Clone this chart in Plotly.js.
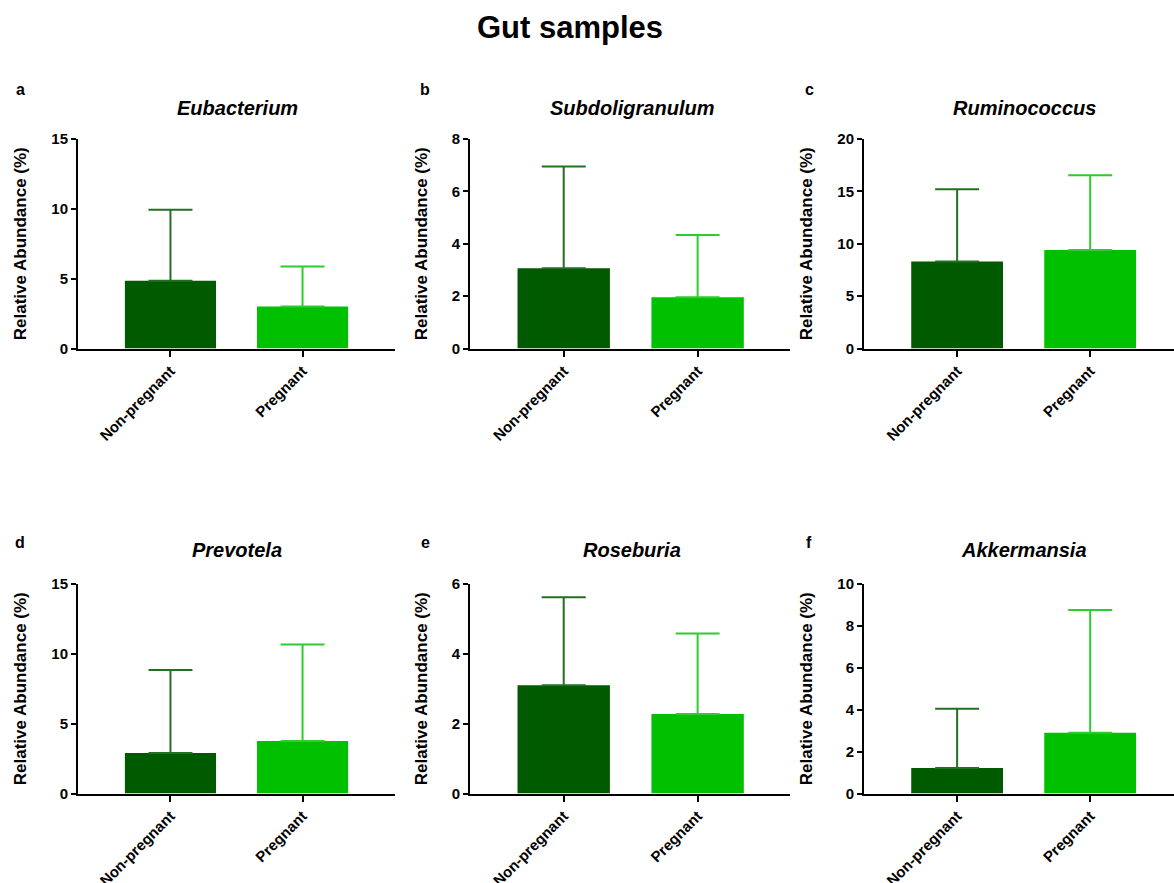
<!DOCTYPE html>
<html>
<head>
<meta charset="utf-8">
<script src="https://cdn.plot.ly/plotly-3.0.1.min.js"></script>
<style>html,body{margin:0;padding:0;background:#fff;}#chart{width:1174px;height:883px;}</style>
</head>
<body>
<div id="chart"></div>
<script>
// ---- data ----
const categories = ['Non-pregnant', 'Pregnant'];
const genera = ['Eubacterium', 'Subdoligranulum', 'Ruminococcus', 'Prevotela', 'Roseburia', 'Akkermansia'];
const panelLetters = ['a', 'b', 'c', 'd', 'e', 'f'];
const nonPregMean = [4.85, 3.06, 8.3, 2.9, 3.1, 1.22];
const nonPregErr  = [5.08, 3.89, 6.9, 5.95, 2.52, 2.83];
const pregMean    = [3.0, 1.96, 9.4, 3.75, 2.28, 2.9];
const pregErr     = [2.88, 2.37, 7.15, 6.92, 2.3, 5.86];
const yMax  = [15, 8, 20, 15, 6, 10];
const yStep = [5, 2, 5, 5, 2, 2];

// ---- layout geometry (pixels) ----
const W = 1174, H = 883;
const colX = [[78, 395], [470, 790], [864, 1174]];
const colRange = [[-0.7, 1.7], [-0.7, 1.69], [-0.7, 1.63]];
const rowY = [[139, 348.5], [584, 793.5]];
const titleY = [108, 550];
const titleX = [237, 632, 1024];
const letterY = [89, 542];
const letterX = [20, 425, 809];

const darkGreen = '#005a00', lightGreen = '#00c000';
const darkErr = '#237023', lightErr = '#2fcc2f';
const FONT = 'Liberation Sans, Arial, sans-serif';

const traces = [];
const layout = {
  width: W, height: H,
  margin: {l: 0, r: 0, t: 0, b: 0},
  paper_bgcolor: '#fff', plot_bgcolor: '#fff',
  showlegend: false,
  barmode: 'overlay',
  font: {family: FONT, color: '#000'},
  title: {text: 'Gut samples', font: {family: FONT, size: 31, weight: 'bold', color: '#000'},
          x: 570 / W, xanchor: 'center', y: 1 - 27 / H, yanchor: 'middle'},
  annotations: []
};

for (let i = 0; i < genera.length; i++) {
  const row = Math.floor(i / 3), col = i % 3;
  const n = i + 1;
  const xa = n === 1 ? 'x' : 'x' + n, ya = n === 1 ? 'y' : 'y' + n;
  const xkey = n === 1 ? 'xaxis' : 'xaxis' + n, ykey = n === 1 ? 'yaxis' : 'yaxis' + n;

  traces.push({
    type: 'bar', x: [categories[0]], y: [nonPregMean[i]], xaxis: xa, yaxis: ya,
    width: 0.69, marker: {color: darkGreen, line: {width: 0}},
    error_y: {type: 'data', symmetric: false, array: [nonPregErr[i]], arrayminus: [0],
              color: darkErr, thickness: 2, width: 22},
    hoverinfo: 'skip'
  });
  traces.push({
    type: 'bar', x: [categories[1]], y: [pregMean[i]], xaxis: xa, yaxis: ya,
    width: 0.69, marker: {color: lightGreen, line: {width: 0}},
    error_y: {type: 'data', symmetric: false, array: [pregErr[i]], arrayminus: [0],
              color: lightErr, thickness: 2, width: 22},
    hoverinfo: 'skip'
  });

  layout[xkey] = {
    domain: [colX[col][0] / W, colX[col][1] / W],
    anchor: ya,
    type: 'category', categoryorder: 'array', categoryarray: categories,
    range: colRange[col],
    showline: true, linecolor: '#000', linewidth: 2,
    ticks: 'outside', ticklen: 6, tickwidth: 2, tickcolor: '#000',
    tickangle: -45, showgrid: false, zeroline: false,
    tickfont: {family: FONT, size: 15, weight: 'bold', color: '#000'},
    fixedrange: true
  };
  layout[ykey] = {
    domain: [1 - rowY[row][1] / H, 1 - rowY[row][0] / H],
    anchor: xa,
    range: [0, yMax[i]], dtick: yStep[i], tick0: 0,
    showline: true, linecolor: '#000', linewidth: 2,
    ticks: 'outside', ticklen: 5, tickwidth: 2, tickcolor: '#000',
    showgrid: false, zeroline: false,
    tickfont: {family: FONT, size: 15, weight: 'bold', color: '#000'},
    title: {text: 'Relative Abundance (%)', font: {family: FONT, size: 17, weight: 'bold', color: '#000'}, standoff: 20},
    fixedrange: true
  };

  layout.annotations.push({
    text: genera[i], xref: 'paper', yref: 'paper',
    x: titleX[col] / W, y: 1 - titleY[row] / H,
    xanchor: 'center', yanchor: 'middle', showarrow: false,
    font: {family: FONT, size: 20, weight: 'bold', style: 'italic', color: '#000'}
  });
  layout.annotations.push({
    text: panelLetters[i], xref: 'paper', yref: 'paper',
    x: letterX[col] / W, y: 1 - letterY[row] / H,
    xanchor: 'center', yanchor: 'middle', showarrow: false,
    font: {family: FONT, size: 16, weight: 'bold', color: '#000'}
  });
}

Plotly.newPlot('chart', traces, layout, {staticPlot: true, displayModeBar: false});
</script>
</body>
</html>
